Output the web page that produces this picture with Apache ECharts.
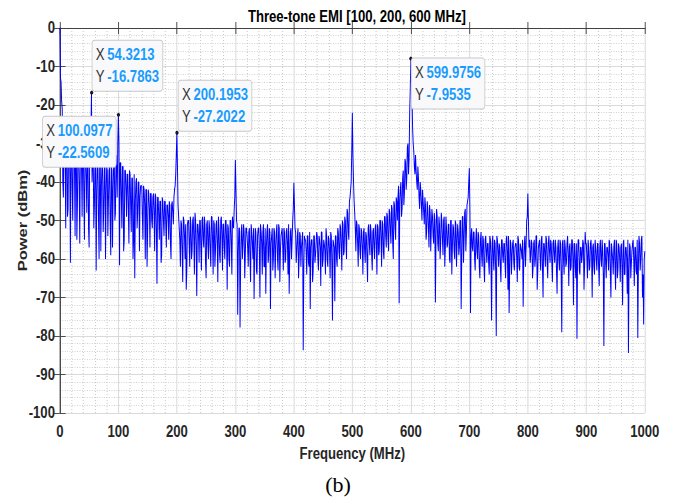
<!DOCTYPE html>
<html>
<head>
<meta charset="utf-8">
<script src="https://cdn.jsdelivr.net/npm/echarts@6/dist/echarts.min.js"></script>
<style>
html,body{margin:0;padding:0;background:#fff;overflow:hidden;width:676px;height:497px;}
/* the original figure is horizontally compressed (~0.82); reproduce by drawing wider and scaling */
#chart{width:824px;height:497px;transform:scaleX(0.82039);transform-origin:0 0;}
</style>
</head>
<body>
<div id="chart"></div>
<script>
const powerEven = [
  0, -14, -21, -44, -24, -52, -27, -47, -28, -61,
  -29, -50, -30, -54, -28, -46, -31, -56, -30, -49,
  -31, -55, -32, -48, -33, -57, -31, -16.79, -34, -52,
  -35, -63, -34, -50, -36, -58, -35, -53, -37, -60,
  -36, -54, -37, -51, -36, -57, -35, -50, -33, -44,
  -22.56, -61.6, -35, -52, -36, -55, -37, -49, -38, -56,
  -38, -53, -39, -55, -65, -40, -52, -40, -58, -41,
  -41, -55, -42, -60, -42, -53, -43, -57, -43, -52,
  -43, -58, -44, -66.4, -44, -55, -45, -59, -45, -54,
  -45, -57, -46, -55, -46, -60, -45, -51, -42, -38,
  -27.2, -46, -52, -62, -51, -66, -50, -60, -68, -51,
  -50, -62, -51, -58, -49, -64, -50, -69.6, -51, -61,
  -50, -63, -49, -57, -51, -65, -50, -60, -52, -62,
  -49, -64, -51, -58, -50, -66, -52, -61, -49, -63,
  -51, -60, -50, -68, -52, -62, -50, -64, -51, -47,
  -34.3, -50, -74.5, -52, -77.8, -53, -60, -51, -65, -52,
  -54, -62, -52, -66, -53, -60, -70.4, -52, -63, -54,
  -52, -70, -53, -64, -51, -62, -69, -53, -61, -52,
  -73, -54, -63, -52, -65, -53, -60, -51, -66, -54,
  -52, -63, -53, -60, -52, -64, -69, -53, -60, -50,
  -40.2, -52, -61, -54, -65, -53, -62, -55, -83.7, -54,
  -55, -64, -54, -62, -73, -55, -66, -54, -61, -56,
  -54, -63, -55, -67, -53, -60, -56, -64, -54, -62,
  -55, -65, -54, -76, -56, -71, -54, -62, -53, -60,
  -52, -63, -51, -58, -50, -60, -48, -55, -44, -40,
  -22, -40, -48, -58, -51, -62, -52, -60, -53, -64,
  -52, -61, -54, -66, -51, -59, -53, -63, -52, -60,
  -51, -64, -52, -58, -50, -62, -51, -60, -49, -57,
  -49, -58, -48, -56, -47, -60, -46, -55, -45, -44,
  -71.5, -42, -49, -39, -46, -34, -42, -31, -38, -22,
  -7.95, -18, -30, -36, -33, -40, -36, -44, -40, -46,
  -42, -48, -44, -55, -45, -52, -46, -58, -47, -54,
  -48, -71.3, -47, -56, -49, -60, -48, -55, -50, -62,
  -49, -57, -51, -60, -50, -64, -51, -58, -50, -62,
  -51, -59, -50, -73, -49, -61, -48, -58, -46, -44,
  -36.4, -74, -52, -58, -53, -63, -52, -60, -54, -65,
  -53, -62, -55, -66, -54, -61, -56, -64, -55, -76,
  -54, -63, -56, -80, -55, -62, -57, -66, -55, -61,
  -56, -65, -54, -68, -74, -55, -64, -56, -61, -57,
  -56, -66, -55, -63, -57, -60, -72.4, -56, -62, -50,
  -43, -57, -61, -55, -65, -56, -62, -54, -68, -57,
  -55, -63, -54, -70, -56, -62, -55, -65, -54, -61,
  -56, -66, -55, -61, -57, -69, -55, -63, -56, -79,
  -55, -64, -57, -61, -54, -67, -56, -62, -55, -72,
  -56, -65, -80.7, -55, -63, -57, -61, -55, -68, -53,
  -56, -65, -57, -62, -55, -70, -56, -64, -57, -63,
  -56, -67, -55, -62, -58, -82.6, -56, -65, -57, -63,
  -56, -70, -58, -64, -55, -68, -56, -63, -57, -66,
  -56, -72, -55, -64, -57, -69, -84.4, -56, -65, -58,
  -55, -67, -57, -64, -80.5, -54, -63, -55, -70, -77,
  -58
];
// Measured power (dBm) at odd frequencies 1,3,...,999 MHz
const powerOdd = [
  -13, -19, -40, -25, -35, -26, -49, -28, -38, -27,
  -42, -29, -37, -30, -55, -29, -41, -31, -36, -30,
  -44, -31, -39, -32, -52, -30, -28, -40, -33, -46,
  -34, -44, -35, -60, -34, -41, -36, -47, -35, -43,
  -37, -45, -36, -59, -37, -42, -34, -48, -36, -30,
  -30, -35, -44, -36, -58, -37, -42, -38, -47, -37,
  -46, -39, -60, -38, -45, -39, -48, -40, -44, -41,
  -49, -41, -46, -42, -62, -42, -47, -43, -50, -44,
  -48, -43, -53, -44, -49, -45, -61, -44, -50, -45,
  -51, -46, -49, -45, -56, -46, -48, -44, -41, -33,
  -36, -49, -55, -50, -58, -49, -54, -51, -63, -50,
  -56, -49, -60, -50, -55, -48, -57, -51, -54, -50,
  -57, -50, -55, -49, -61, -51, -56, -50, -58, -49,
  -55, -50, -62, -51, -56, -49, -59, -50, -54, -51,
  -57, -50, -55, -51, -60, -50, -56, -49, -52, -44,
  -42, -51, -58, -52, -61, -51, -56, -53, -59, -52,
  -57, -53, -60, -51, -56, -52, -58, -53, -64, -52,
  -58, -51, -56, -53, -62, -52, -57, -51, -59, -53,
  -56, -52, -60, -53, -57, -51, -63, -52, -58, -53,
  -57, -52, -61, -53, -56, -51, -59, -52, -55, -47,
  -46, -53, -58, -52, -60, -54, -57, -53, -62, -55,
  -58, -54, -61, -53, -57, -55, -63, -54, -59, -53,
  -60, -54, -57, -53, -62, -55, -58, -52, -60, -54,
  -58, -53, -61, -55, -57, -54, -60, -52, -58, -51,
  -57, -50, -59, -49, -55, -47, -53, -45, -42, -32,
  -33, -45, -52, -50, -56, -51, -58, -52, -57, -53,
  -58, -53, -60, -52, -56, -51, -59, -53, -57, -52,
  -56, -51, -59, -50, -55, -50, -58, -49, -54, -48,
  -55, -47, -53, -46, -56, -45, -52, -44, -50, -41,
  -45, -40, -47, -37, -43, -35, -39, -30, -34, -16,
  -14, -26, -32, -38, -37, -42, -39, -47, -42, -50,
  -45, -51, -46, -53, -47, -57, -48, -52, -49, -56,
  -50, -54, -49, -58, -51, -56, -50, -59, -49, -57,
  -52, -56, -51, -61, -50, -57, -52, -60, -51, -56,
  -53, -57, -50, -60, -49, -55, -47, -53, -45, -40,
  -48, -54, -57, -53, -60, -55, -58, -53, -62, -55,
  -59, -54, -62, -55, -58, -56, -61, -54, -60, -56,
  -60, -55, -63, -54, -58, -56, -62, -55, -59, -56,
  -61, -55, -58, -54, -62, -56, -59, -55, -63, -56,
  -60, -54, -62, -56, -58, -55, -61, -54, -57, -49,
  -50, -55, -59, -56, -62, -55, -60, -54, -63, -56,
  -60, -55, -62, -56, -59, -54, -61, -56, -58, -55,
  -61, -56, -59, -55, -63, -57, -60, -55, -64, -56,
  -60, -55, -62, -56, -59, -57, -63, -55, -60, -56,
  -62, -56, -60, -55, -64, -57, -59, -56, -62, -56,
  -60, -55, -63, -56, -59, -57, -62, -55, -60, -56,
  -62, -57, -60, -55, -64, -56, -61, -57, -59, -55,
  -63, -56, -60, -57, -62, -55, -65, -56, -60, -57,
  -62, -56, -64, -57, -60, -55, -63, -57, -61, -56,
  -60, -57, -63, -55, -62, -56, -60, -54, -64, -60
];
// Data tips
const tipFreq  = [54.3213, 100.0977, 200.1953, 599.9756];
const tipPower = [-16.7863, -22.5609, -27.2022, -7.9535];
const tipPos   = [[3, -50], [-90, 4], [4, -50], [3, 2]];

const SANS = "'Liberation Sans',Arial,Helvetica,sans-serif";

const chart = echarts.init(document.getElementById('chart'), null, {renderer: 'svg'});
const seriesData = [];
powerEven.forEach((p, i) => {
  seriesData.push([2 * i, p]);
  if (i < powerOdd.length) seriesData.push([2 * i + 1, powerOdd[i]]);
});

const tipData = tipFreq.map((f, i) => ({
  coord: [f, tipPower[i]],
  label: {
    show: true,
    position: tipPos[i],
    formatter: '{k|X} {v|' + f.toFixed(4) + '}\n{k|Y} {v|' + tipPower[i].toFixed(4) + '}'
  }
}));

const axisColor = '#404040';
const labelStyle = {color: '#262626', fontWeight: 'bold', fontSize: 16, fontFamily: SANS};

chart.setOption({
  animation: false,
  backgroundColor: '#ffffff',
  title: {
    text: 'Three-tone EMI [100, 200, 600 MHz]',
    left: 430, top: 4, textAlign: 'center',
    textStyle: {color: '#000', fontWeight: 'bold', fontSize: 16, fontFamily: SANS}
  },
  grid: {left: 73, right: 38, top: 28, bottom: 84, containLabel: false, outerBoundsMode: 'none'},
  xAxis: [{
    type: 'value', min: 0, max: 1000, interval: 100, position: 'bottom',
    name: 'Frequency (MHz)', nameLocation: 'middle', nameGap: 33, nameMoveOverlap: false,
    nameTextStyle: {color: '#262626', fontWeight: 'bold', fontSize: 16, fontFamily: SANS},
    axisLine: {show: true, lineStyle: {color: axisColor, width: 1}},
    axisTick: {show: true, inside: true, length: 6, lineStyle: {color: axisColor}},
    axisLabel: Object.assign({margin: 11, formatter: v => String(v)}, labelStyle),
    splitLine: {show: true, lineStyle: {color: '#d6d6d6', width: 1}},
    minorTick: {show: false, splitNumber: 5},
    minorSplitLine: {show: true, lineStyle: {color: '#c2c2c2', type: [1, 2], width: 1}}
  }, {
    type: 'value', min: 0, max: 1000, interval: 100, position: 'top',
    axisLine: {show: true, lineStyle: {color: axisColor, width: 1}},
    axisTick: {show: true, inside: true, length: 6, lineStyle: {color: axisColor}},
    axisLabel: {show: false}, splitLine: {show: false}
  }],
  yAxis: [{
    type: 'value', min: -100, max: 0, interval: 10, position: 'left',
    name: 'Power (dBm)', nameLocation: 'middle', nameGap: 38, nameRotate: 90, nameMoveOverlap: false,
    nameTextStyle: {color: '#262626', fontWeight: 'bold', fontSize: 16.5, fontFamily: SANS},
    axisLine: {show: true, lineStyle: {color: axisColor, width: 1}},
    axisTick: {show: true, inside: true, length: 7, lineStyle: {color: axisColor}},
    axisLabel: Object.assign({margin: 6, formatter: v => String(v)}, labelStyle),
    splitLine: {show: true, lineStyle: {color: '#d6d6d6', width: 1}},
    minorTick: {show: false, splitNumber: 5},
    minorSplitLine: {show: true, lineStyle: {color: '#c2c2c2', type: [1, 2], width: 1}}
  }, {
    type: 'value', min: -100, max: 0, interval: 10, position: 'right',
    axisLine: {show: true, lineStyle: {color: axisColor, width: 1}},
    axisTick: {show: true, inside: true, length: 7, lineStyle: {color: axisColor}},
    axisLabel: {show: false}, splitLine: {show: false}
  }],
  series: [{
    type: 'line',
    xAxisIndex: 0, yAxisIndex: 0,
    data: seriesData,
    showSymbol: false,
    symbol: 'none',
    sampling: null,
    lineStyle: {color: '#0000ff', width: 1.2},
    itemStyle: {color: '#0000ff'},
    z: 3,
    markPoint: {
      symbol: 'circle', symbolSize: 4,
      itemStyle: {color: '#1a1a1a'},
      z: 10,
      label: {
        show: true,
        backgroundColor: '#f9f9fb',
        borderColor: '#c8c8c8', borderWidth: 1, borderRadius: 3,
        padding: [3, 4],
        lineHeight: 22,
        rich: {
          k: {color: '#333333', fontSize: 16, fontFamily: SANS, lineHeight: 22},
          v: {color: '#1a9cff', fontSize: 16, fontWeight: 'bold', fontFamily: SANS, lineHeight: 22}
        }
      },
      data: tipData
    }
  }],
  graphic: [{
    type: 'text', x: 412, y: 485, scaleX: 1.219,
    style: {text: '(b)', font: "22px 'Liberation Serif','Times New Roman',serif", fill: '#000',
            align: 'center', verticalAlign: 'middle', textAlign: 'center', textVerticalAlign: 'middle'}
  }]
});
</script>
</body>
</html>
